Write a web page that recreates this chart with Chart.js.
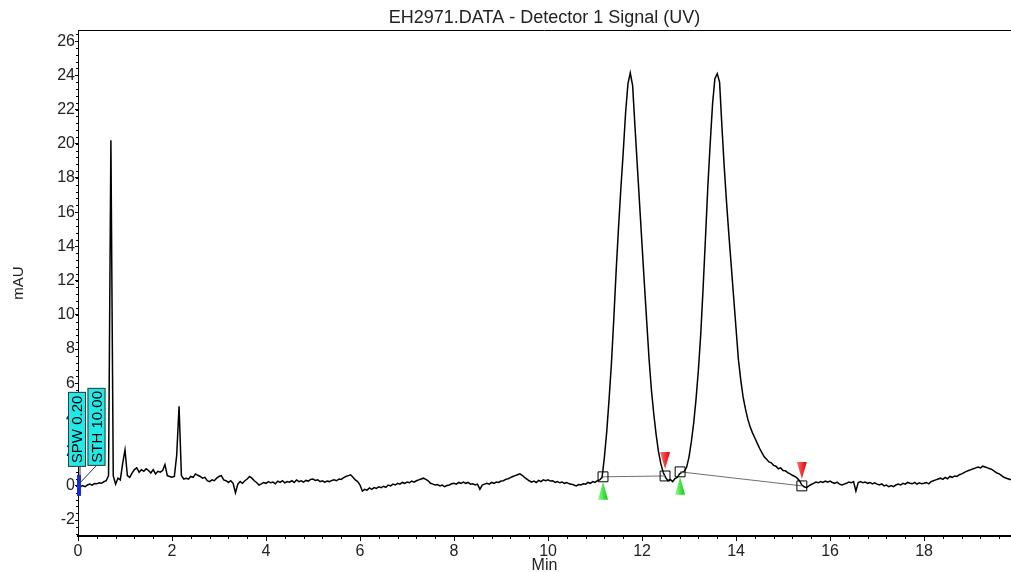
<!DOCTYPE html>
<html>
<head>
<meta charset="utf-8">
<title>EH2971 chromatogram</title>
<script src="https://cdn.jsdelivr.net/npm/chart.js"></script>
<style>
    html, body { margin: 0; padding: 0; background: #fff; }
    canvas { display: block; }
</style>
</head>
<body>
<canvas id="chart" width="1011" height="572"></canvas>
<script>
// Chart data
const chartTitle = 'EH2971.DATA - Detector 1 Signal (UV)';
const xTitle = 'Min';
const yTitle = 'mAU';
const xTicks = [0, 2, 4, 6, 8, 10, 12, 14, 16, 18];
const yTicks = [-2, 0, 2, 4, 6, 8, 10, 12, 14, 16, 18, 20, 22, 24, 26];

// detector signal, one value every 0.05 min starting at 0 min (one row = one minute)
const sampleStep = 0.05;
const signal = [
    -0.15, -0.05, 0.02, -0.05, 0.05, 0.10, 0.04, 0.14, 0.12, 0.18, 0.15, 0.24, 0.30, 0.60, 20.2, 0.60, 0.10, 0.45, 0.35, 1.30,
    2.10, 0.60, 0.50, 0.75, 0.95, 1.05, 0.80, 0.95, 0.85, 1.00, 0.90, 0.75, 0.95, 0.70, 0.85, 0.80, 0.90, 1.25, 0.60, 0.55,
    0.50, 0.55, 1.80, 4.65, 0.60, 0.40, 0.45, 0.40, 0.55, 0.50, 0.70, 0.62, 0.55, 0.45, 0.50, 0.30, 0.25, 0.35, 0.30, 0.45,
    0.55, 0.60, 0.35, 0.30, 0.20, 0.30, 0.15, -0.40, 0.10, 0.25, 0.15, 0.30, 0.40, 0.55, 0.45, 0.30, 0.20, 0.05, 0.12, 0.20,
    0.15, 0.25, 0.18, 0.22, 0.12, 0.28, 0.20, 0.30, 0.18, 0.25, 0.22, 0.30, 0.20, 0.35, 0.25, 0.30, 0.22, 0.32, 0.28, 0.38,
    0.40, 0.32, 0.36, 0.25, 0.30, 0.22, 0.28, 0.25, 0.32, 0.35, 0.30, 0.40, 0.38, 0.48, 0.55, 0.60, 0.65, 0.50, 0.35, 0.25,
    0.05, -0.30, -0.20, -0.25, -0.12, -0.20, -0.10, -0.15, -0.05, -0.10, -0.02, -0.08, 0.05, 0.00, 0.10, 0.05, 0.15, 0.10, 0.20, 0.15,
    0.22, 0.18, 0.28, 0.22, 0.30, 0.35, 0.40, 0.45, 0.38, 0.30, 0.15, 0.10, 0.05, 0.08, 0.00, 0.05, -0.05, 0.02, 0.05, 0.12,
    0.15, 0.10, 0.20, 0.15, 0.22, 0.15, 0.20, 0.10, 0.12, 0.05, 0.10, -0.20, 0.05, 0.10, 0.15, 0.10, 0.20, 0.15, 0.22, 0.20,
    0.28, 0.30, 0.38, 0.42, 0.48, 0.55, 0.60, 0.65, 0.70, 0.62, 0.50, 0.40, 0.30, 0.22, 0.28, 0.20, 0.32, 0.25, 0.35, 0.30,
    0.35, 0.28, 0.30, 0.20, 0.25, 0.18, 0.22, 0.15, 0.20, 0.12, 0.10, 0.05, 0.00, 0.08, 0.05, 0.12, 0.10, 0.20, 0.15, 0.25,
    0.20, 0.30, 0.35, 0.50, 1.70, 3.20, 5.10, 7.20, 9.80, 12.6, 15.1, 17.4, 19.5, 21.8, 23.5, 24.15, 23.4, 21.0, 18.7, 16.4,
    14.1, 11.8, 9.60, 7.40, 5.60, 4.20, 3.00, 2.00, 1.30, 0.80, 0.50, 0.30, 0.38, 0.25, 0.42, 0.50, 0.70, 0.80, 0.85, 1.10,
    1.70, 2.60, 3.70, 5.10, 6.80, 8.90, 11.6, 14.5, 17.5, 20.0, 22.3, 23.8, 24.1, 23.6, 21.0, 18.6, 16.5, 14.6, 12.8, 11.0,
    9.20, 7.40, 6.20, 5.20, 4.50, 3.90, 3.45, 3.10, 2.80, 2.50, 2.20, 1.95, 1.70, 1.55, 1.40, 1.35, 1.20, 1.15, 1.00, 1.05,
    0.90, 0.88, 0.78, 0.70, 0.62, 0.55, 0.45, 0.30, 0.05, -0.05, -0.10, 0.00, 0.08, 0.15, 0.22, 0.18, 0.25, 0.20, 0.28, 0.22,
    0.28, 0.20, 0.15, 0.22, 0.10, 0.05, 0.10, 0.15, 0.22, 0.18, 0.25, -0.30, 0.20, 0.25, 0.18, 0.22, 0.15, 0.20, 0.12, 0.18,
    0.10, 0.05, 0.12, 0.00, 0.05, -0.05, 0.02, -0.04, 0.05, 0.10, 0.05, 0.15, 0.10, 0.20, 0.15, 0.12, 0.20, 0.10, 0.18, 0.12,
    0.15, 0.20, 0.12, 0.25, 0.30, 0.35, 0.40, 0.45, 0.38, 0.50, 0.42, 0.55, 0.50, 0.58, 0.55, 0.65, 0.70, 0.78, 0.85, 0.90,
    0.95, 1.00, 1.05, 1.10, 1.05, 1.15, 1.10, 1.05, 1.00, 0.95, 0.85, 0.75, 0.70, 0.60, 0.50, 0.45, 0.40, 0.35
];

// integration baselines [min, mAU]
const baselineA = [[11.17, 0.53], [12.49, 0.58]];
const baselineB = [[12.81, 0.82], [15.40, 0.00]];
const peakStarts = [[11.17, 0.53], [12.81, 0.82]];
const peakEnds = [[12.49, 0.58], [15.40, 0.00]];
const eventLabels = ['SPW 0.20', 'STH 10.00'];
const eventTime = 0;

const xMax = 19.85;
const yMin = -2.93;
const yMax = 26.65;
const minorStep = 0.4;

const fontFamily = '"Liberation Sans", Arial, sans-serif';

// Build chart points
const signalPoints = signal.map((v, i) => ({ x: +(i * sampleStep).toFixed(2), y: v }));
const toPoints = arr => arr.map(p => ({ x: p[0], y: p[1] }));

function triangle(ctx, px, tipY, baseY, light, dark) {
    const grad = ctx.createLinearGradient(px - 5, 0, px + 5, 0);
    grad.addColorStop(0, light);
    grad.addColorStop(1, dark);
    ctx.fillStyle = grad;
    ctx.beginPath();
    ctx.moveTo(px, tipY);
    ctx.lineTo(px - 5, baseY);
    ctx.lineTo(px + 5, baseY);
    ctx.closePath();
    ctx.fill();
}

// Frame, minor ticks, peak markers, event labels, title
const decorations = {
    id: 'decorations',
    afterDraw(chart) {
        const { ctx, chartArea: a, scales: { x, y } } = chart;
        ctx.save();

        // top frame line
        ctx.strokeStyle = '#000';
        ctx.lineWidth = 1;
        ctx.beginPath();
        ctx.moveTo(a.left, a.top + 0.5);
        ctx.lineTo(a.right, a.top + 0.5);
        ctx.stroke();

        // minor ticks
        ctx.beginPath();
        for (let i = 1; i * minorStep <= xMax; i++) {
            const px = Math.round(x.getPixelForValue(i * minorStep)) + 0.5;
            ctx.moveTo(px, a.bottom);
            ctx.lineTo(px, a.bottom + 3);
        }
        for (let i = Math.ceil(yMin / minorStep); i * minorStep <= yMax; i++) {
            const py = Math.round(y.getPixelForValue(i * minorStep)) + 0.5;
            ctx.moveTo(a.left, py);
            ctx.lineTo(a.left - 2, py);
        }
        ctx.stroke();

        // peak start / end markers
        peakStarts.forEach(p => {
            const px = x.getPixelForValue(p[0]);
            const py = y.getPixelForValue(p[1]);
            triangle(ctx, px, py + 5, py + 23, '#8cff8c', '#10c810');
        });
        peakEnds.forEach(p => {
            const px = x.getPixelForValue(p[0]);
            const py = y.getPixelForValue(p[1]);
            triangle(ctx, px, py - 7, py - 24, '#ff7070', '#e00000');
        });

        // event marker and labels at run start
        const ex = x.getPixelForValue(eventTime);
        const ey = y.getPixelForValue(0);
        ctx.fillStyle = '#1428e6';
        ctx.fillRect(ex - 1, ey - 11, 4, 21);

        ctx.strokeStyle = '#333';
        ctx.beginPath();
        ctx.moveTo(ex + 2, ey - 19);
        ctx.lineTo(ex + 2, ey - 3);
        ctx.moveTo(ex + 18, ey - 20);
        ctx.lineTo(ex + 2, ey - 3);
        ctx.stroke();

        const boxes = [
            { left: ex - 10, width: 18, top: ey - 94, height: 75 },
            { left: ex + 9.5, width: 18, top: ey - 98, height: 78 }
        ];
        eventLabels.forEach((label, i) => {
            const b = boxes[i];
            ctx.fillStyle = '#22e8e8';
            ctx.fillRect(b.left, b.top, b.width, b.height);
            ctx.strokeStyle = '#3a3a3a';
            ctx.strokeRect(b.left + 0.5, b.top + 0.5, b.width - 1, b.height - 1);
            ctx.save();
            ctx.translate(b.left + b.width / 2, b.top + b.height / 2);
            ctx.rotate(-Math.PI / 2);
            ctx.fillStyle = '#000';
            ctx.font = '15px ' + fontFamily;
            ctx.textAlign = 'center';
            ctx.textBaseline = 'middle';
            ctx.fillText(label, 0, 1);
            ctx.restore();
        });

        // title centred over the plot area
        ctx.fillStyle = '#222';
        ctx.font = '18px ' + fontFamily;
        ctx.textAlign = 'center';
        ctx.textBaseline = 'middle';
        ctx.fillText(chartTitle, (a.left + a.right) / 2, 18);

        ctx.restore();
    }
};

const ctx = document.getElementById('chart').getContext('2d');
new Chart(ctx, {
    type: 'line',
    data: {
        datasets: [
            {
                data: toPoints(baselineA),
                borderColor: '#6e6e6e',
                borderWidth: 1,
                pointStyle: 'rect',
                pointRadius: 7,
                pointBorderColor: '#000',
                pointBackgroundColor: 'rgba(0,0,0,0)',
                pointBorderWidth: 1,
                order: 0
            },
            {
                data: toPoints(baselineB),
                borderColor: '#6e6e6e',
                borderWidth: 1,
                pointStyle: 'rect',
                pointRadius: 7,
                pointBorderColor: '#000',
                pointBackgroundColor: 'rgba(0,0,0,0)',
                pointBorderWidth: 1,
                order: 0
            },
            {
                data: signalPoints,
                borderColor: '#000',
                borderWidth: 1.5,
                pointRadius: 0,
                tension: 0,
                order: 1
            }
        ]
    },
    options: {
        responsive: false,
        animation: false,
        layout: { autoPadding: false, padding: { top: 30, right: 0, left: 0, bottom: 0 } },
        plugins: {
            legend: { display: false },
            tooltip: { enabled: false },
            title: { display: false }
        },
        scales: {
            x: {
                type: 'linear',
                min: 0,
                max: xMax,
                afterBuildTicks: scale => { scale.ticks = xTicks.map(v => ({ value: v })); },
                afterFit: scale => {
                    scale.height = 36;
                    scale.paddingLeft = 0;
                    scale.paddingRight = 0;
                },
                grid: { drawOnChartArea: false, tickLength: 5, color: '#000' },
                border: { color: '#000', width: 2 },
                ticks: {
                    color: '#222',
                    padding: 1,
                    maxRotation: 0,
                    font: { family: fontFamily, size: 16 }
                },
                title: {
                    display: true,
                    text: xTitle,
                    color: '#222',
                    padding: { top: 0, bottom: -3 },
                    font: { family: fontFamily, size: 16 }
                }
            },
            y: {
                type: 'linear',
                min: yMin,
                max: yMax,
                afterBuildTicks: scale => { scale.ticks = yTicks.map(v => ({ value: v })); },
                afterFit: scale => {
                    scale.width = 78;
                    scale.paddingTop = 0;
                    scale.paddingBottom = 0;
                },
                grid: { drawOnChartArea: false, tickLength: 3, color: '#000' },
                border: { color: '#000', width: 1 },
                ticks: {
                    color: '#222',
                    padding: 0,
                    font: { family: fontFamily, size: 16 }
                },
                title: {
                    display: true,
                    text: yTitle,
                    color: '#222',
                    padding: { top: 10, bottom: 0 },
                    font: { family: fontFamily, size: 15 }
                }
            }
        }
    },
    plugins: [decorations]
});
</script>
</body>
</html>
